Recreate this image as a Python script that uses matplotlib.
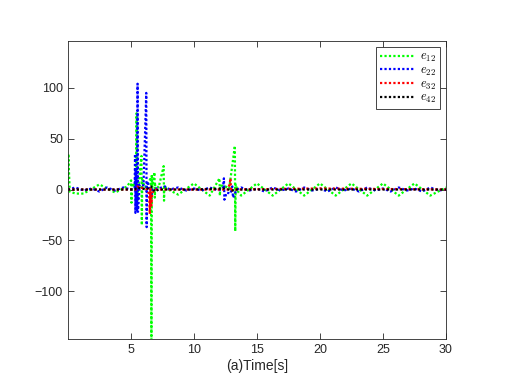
import numpy as np
import matplotlib
matplotlib.use("Agg")
import matplotlib.pyplot as plt

# values (time [s], error)
green_t = [0.0, 0.04, 0.08, 0.15, 0.6, 1.25, 2.5, 3.75, 4.7, 5.02, 5.05, 5.08, 5.3,
           5.42, 5.45, 5.48, 5.6, 5.84, 5.87, 5.9, 6.1, 6.3, 6.6, 6.63, 6.66, 6.7,
           6.87, 6.9, 6.93, 7.2, 7.6, 7.63, 7.66, 7.8, 8.75, 10.0, 11.25, 12.03,
           12.06, 12.09, 12.5, 12.8, 13.25, 13.28, 13.31, 13.5, 13.75, 15.0, 16.25,
           17.5, 18.75, 20.0, 21.25, 22.5, 23.75, 25.0, 26.25, 27.5, 28.75, 30.0]
green_v = [5, 35, 20, -2, -4, -4, 5, -3, 3, 9, -13, 6, 3,
           20, 75, -14, 4, 33, -35, 10, 2, 4, 12, -148, 15, 3,
           17, -8, 5, 2, 23, -11, 4, 1, -5, 6, -6, 11,
           -6, 4, 3, 1, 43, -41, 5, -2, -6, 6, -6,
           6, -6, 6, -6, 6, -6, 6, -6, 6, -6, 2]

blue_t = [0.0, 0.6, 1.25, 1.9, 2.5, 3.1, 3.75, 4.4, 5.0, 5.3, 5.33, 5.36, 5.39,
          5.5, 5.53, 5.56, 5.7, 6.0, 6.22, 6.25, 6.28, 6.4, 6.6, 6.7, 7.0, 7.5,
          7.7, 8.1, 8.75, 9.4, 10.0, 10.6, 11.25, 11.9, 12.3, 12.38, 12.42, 12.6,
          12.9, 13.05, 13.1, 13.4, 13.75, 14.4, 15.0, 15.6, 16.25, 16.9, 17.5,
          18.1, 18.75, 19.4, 20.0, 20.6, 21.25, 21.9, 22.5, 23.1, 23.75, 24.4,
          25.0, 25.6, 26.25, 26.9, 27.5, 28.1, 28.75, 29.4, 30.0]
blue_v = [0, 2, -1, 1, -2, 2, -1, 2, 0, 1, 35, -23, 20,
          -20, 104, -22, 5, 4, 95, -37, 8, 5, -8, 0, 1, 2,
          3, 0, 2, -1, 1, -1, 2, -1, 1, 11, -10, -3,
          -4, 3, -8, 0, 2, -1, 1, -2, 2, -1, 1,
          -2, 2, -1, 1, -2, 2, -1, 1, -2, 2, -1,
          1, -2, 2, -1, 1, -2, 2, -1, 0]

red_t = [0.0, 5.4, 5.5, 6.3, 6.45, 6.5, 6.55, 6.62, 6.7, 7.0, 12.7, 12.85,
         12.9, 12.95, 13.1, 20.0, 30.0]
red_v = [0, 0, 3, 0, -5, -24, 2, -16, -3, 0, 0, 6,
         11, -2, 0, 1, 0]

black_t = [0.0, 2.0, 5.3, 5.5, 6.2, 6.6, 6.9, 7.2, 10.0, 12.5, 13.0, 13.4, 20.0, 30.0]
black_v = [0, 0, 0, 2, 0, 3, -2, 0, 0, 1, -1, 0, 0, 0]

labels = [r"$e_{12}$", r"$e_{22}$", r"$e_{32}$", r"$e_{42}$"]
colors = [(0, 1, 0), (0, 0, 1), (1, 0, 0), (0, 0, 0)]

plt.rcParams["font.family"] = ["Liberation Sans", "DejaVu Sans"]
plt.rcParams["mathtext.fontset"] = "cm"

fig = plt.figure(figsize=(5.18, 3.87), dpi=100)
ax = fig.add_axes([0.131, 0.124, 0.730, 0.770])

series = [(green_t, green_v), (blue_t, blue_v), (red_t, red_v), (black_t, black_v)]
for (t, v), c, lab in zip(series, colors, labels):
    ax.plot(t, v, linestyle=(0, (1, 1)), color=c, linewidth=1.6, label=lab)

ax.set_xlim(0, 30)
ax.set_ylim(-147, 146)
ax.set_xticks([5, 10, 15, 20, 25, 30])
ax.set_yticks([-100, -50, 0, 50, 100])
ax.tick_params(direction="in", top=True, right=True, labelsize=9,
               colors=(0.15, 0.15, 0.15), length=4, width=0.6)
for s in ax.spines.values():
    s.set_color((0.15, 0.15, 0.15))
    s.set_linewidth(0.6)
ax.set_xlabel("(a)Time[s]", fontsize=10, color=(0.15, 0.15, 0.15), labelpad=2)

leg = ax.legend(loc="upper right", fontsize=9, handlelength=2.8, fancybox=False,
                edgecolor=(0.15, 0.15, 0.15), framealpha=1, borderaxespad=0.5,
                labelspacing=0.05, borderpad=0.3, handletextpad=0.4)
leg.get_frame().set_linewidth(0.6)

fig.savefig("out.png", dpi=100)
